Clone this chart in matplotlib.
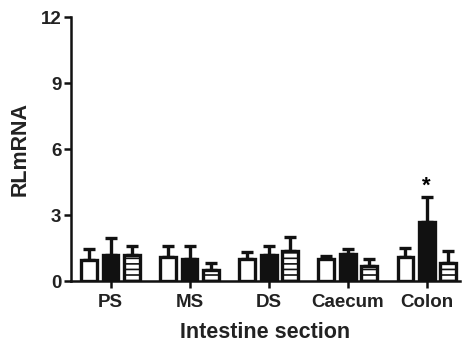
import matplotlib
matplotlib.use("Agg")
import matplotlib.pyplot as plt
import numpy as np

plt.rcParams['font.family'] = ['Liberation Sans', 'DejaVu Sans']
plt.rcParams['hatch.linewidth'] = 1.2

categories = ["PS", "MS", "DS", "Caecum", "Colon"]
open_vals = [0.95, 1.1, 1.0, 1.0, 1.1]
open_err = [0.5, 0.5, 0.3, 0.15, 0.4]
black_vals = [1.2, 1.0, 1.2, 1.25, 2.7]
black_err = [0.75, 0.6, 0.4, 0.2, 1.1]
hatch_vals = [1.2, 0.5, 1.35, 0.7, 0.8]
hatch_err = [0.4, 0.3, 0.65, 0.3, 0.55]
yticks = [0, 3, 6, 9, 12]

fig = plt.figure(figsize=(4.67, 3.47), dpi=100)
ax = fig.add_axes([0.152, 0.19, 0.833, 0.761])

x = np.arange(len(categories))
off = 0.27
w = 0.2
lw = 2.4
ekw = dict(elinewidth=lw, capthick=lw, ecolor='#111111')

def draw(pos, vals, errs, face, hatch=None):
    ax.bar(pos, vals, width=w, color=face, edgecolor='#111111', linewidth=lw,
           hatch=hatch, zorder=2)
    ax.errorbar(pos, vals, yerr=[np.zeros(len(vals)), errs], fmt='none',
                capsize=4.5, zorder=1, **ekw)

draw(x - off, open_vals, open_err, 'white')
draw(x, black_vals, black_err, '#111111')
draw(x + off, hatch_vals, hatch_err, 'white', hatch='---')

ax.text(x[4], black_vals[4] + black_err[4] + 0.02, '*', ha='center', va='bottom',
        fontsize=16, fontweight='bold')

ax.set_xlim(-0.5, 4.42)
ax.set_ylim(0, 12)
ax.set_yticks(yticks)
ax.set_yticklabels([str(v) for v in yticks], fontsize=13.5, fontweight='bold',
                   color='#222222')
ax.set_xticks(x)
ax.set_xticklabels(categories, fontsize=13.5, fontweight='bold', color='#222222')
ax.set_ylabel('RLmRNA', fontsize=15.5, fontweight='bold', labelpad=7,
              color='#222222')
ax.set_xlabel('Intestine section', fontsize=15.5, fontweight='bold', labelpad=8,
              color='#222222')

for s in ['top', 'right']:
    ax.spines[s].set_visible(False)
for s in ['left', 'bottom']:
    ax.spines[s].set_linewidth(1.8)
    ax.spines[s].set_color('#111111')
ax.tick_params(axis='y', width=1.8, length=5, color='#111111', pad=2)
ax.tick_params(axis='x', width=1.8, length=5, color='#111111', pad=4)

fig.savefig('out.png', dpi=100)
